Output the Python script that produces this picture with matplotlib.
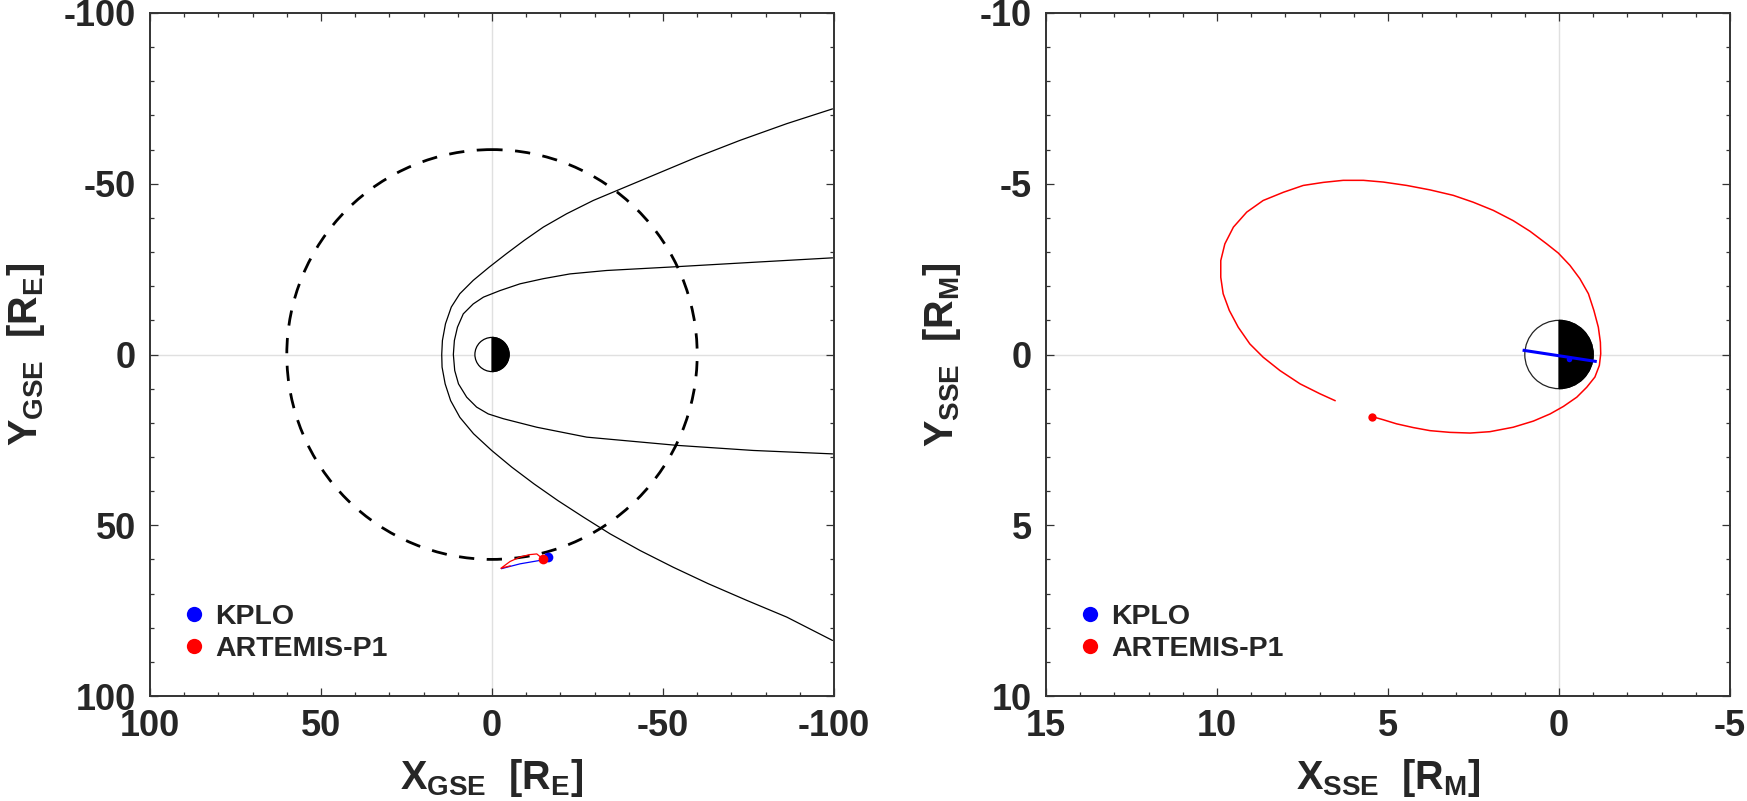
import matplotlib
matplotlib.use("Agg")
import matplotlib.pyplot as plt
from matplotlib.patches import Circle, Wedge
from matplotlib.lines import Line2D
from matplotlib.ticker import MultipleLocator

plt.rcParams['font.family'] = ['Liberation Sans', 'DejaVu Sans']
plt.rcParams['font.weight'] = 'bold'
plt.rcParams['axes.unicode_minus'] = False
plt.rcParams['mathtext.fontset'] = 'custom'
plt.rcParams['mathtext.rm'] = 'Liberation Sans:bold'
plt.rcParams['mathtext.bf'] = 'Liberation Sans:bold'
plt.rcParams['mathtext.it'] = 'Liberation Sans:bold'

TXT = '#262626'

# ---------------- data: left panel (GSE, Earth radii) ----------------
moon_orbit_r = 60.0
earth_r = 5.0

# bow shock (top branch -> nose -> bottom branch)
bs_x = [-99.5, -86.2, -72.5, -59.9, -48.2, -36.5, -29.6, -21.8, -15.0, -9.4, -4.2,
        0.8, 5.5, 9.4, 11.9, 13.6, 14.5, 14.7, 14.6, 13.7, 12.1, 9.4, 5.4, 0.1,
        -5.8, -12.3, -19.3, -26.7, -34.5, -43.3, -53.0, -63.2, -74.5, -86.2, -99.5]
bs_y = [-71.9, -67.6, -62.7, -57.8, -52.9, -48.0, -45.1, -41.2, -37.3, -33.4, -29.5,
        -25.6, -21.7, -17.8, -13.9, -9.0, -4.1, 0.0, 3.7, 8.6, 13.5, 18.4, 23.2, 28.1,
        33.0, 37.9, 42.8, 47.6, 52.5, 57.4, 62.3, 67.1, 72.0, 76.9, 83.7]

# magnetopause
mp_x = [-99.5, -76.4, -52.0, -33.5, -22.8, -15.0, -8.2, -2.3, 2.5, 5.5, 8.4, 10.1,
        11.0, 11.3, 10.9, 9.8, 7.4, 4.5, 1.1, -3.3, -13.1, -27.7, -54.0, -76.4, -99.5]
mp_y = [-28.3, -27.0, -25.6, -24.6, -23.6, -22.2, -20.7, -18.7, -16.8, -14.8, -11.9, -8.0,
        -4.1, 0.0, 4.7, 8.6, 12.5, 15.4, 17.4, 18.8, 21.3, 24.2, 26.6, 28.1, 29.1]

kplo_gse_x = [-2.8, -8.2, -14.0, -16.5]
kplo_gse_y = [62.7, 61.3, 60.3, 59.3]
art_gse_x = [-5.3, -2.6, -5.3, -8.2, -11.0, -13.1, -14.8]
art_gse_y = [61.9, 62.6, 60.6, 59.3, 58.6, 58.4, 59.8]
kplo_gse_now = (-16.5, 59.3)
art_gse_now = (-14.8, 59.8)

# ---------------- data: right panel (SSE, Moon radii) ----------------
moon_r = 1.0
kplo_sse_x = [1.02, -1.06]
kplo_sse_y = [-0.12, 0.20]
kplo_sse_now = (-0.30, 0.13)

art_sse_x = [5.46, 5.14, 4.75, 4.26, 3.77, 3.19, 2.60, 2.02, 1.34, 0.75, 0.26, -0.13,
             -0.52, -0.81, -1.05, -1.18, -1.22, -1.21, -1.15, -1.02, -0.86, -0.61, -0.32,
             0.02, 0.36, 0.85, 1.34, 1.92, 2.51, 3.09, 3.77, 4.45, 5.14, 5.72, 6.31, 6.89,
             7.48, 8.06, 8.65, 9.13, 9.52, 9.77, 9.89, 9.89, 9.82, 9.64, 9.38, 9.04, 8.65,
             8.16, 7.57, 6.99, 6.55]
art_sse_y = [1.82, 1.91, 2.03, 2.14, 2.23, 2.28, 2.30, 2.26, 2.13, 1.95, 1.74, 1.52,
             1.25, 0.96, 0.66, 0.32, -0.02, -0.36, -0.80, -1.29, -1.78, -2.22, -2.61,
             -2.97, -3.24, -3.61, -3.92, -4.22, -4.46, -4.66, -4.82, -4.95, -5.05, -5.10, -5.10, -5.04,
             -4.95, -4.75, -4.51, -4.17, -3.73, -3.24, -2.75, -2.26, -1.78, -1.29, -0.80, -0.31, 0.08,
             0.47, 0.86, 1.15, 1.35]
art_sse_now = (5.46, 1.82)

left_ticks = [100, 50, 0, -50, -100]
right_xticks = [15, 10, 5, 0, -5]
right_yticks = [-10, -5, 0, 5, 10]

# ---------------- figure ----------------
fig = plt.figure(figsize=(17.47, 8.01), dpi=100)
W, H = 1747, 801
ax1 = fig.add_axes([150 / W, 105 / H, 684 / W, 683 / H])
ax2 = fig.add_axes([1046 / W, 105 / H, 684 / W, 683 / H])


def style(ax, lim, minor, xt, yt, xlabel, ylabel):
    ax.set_xlim(lim[0], lim[1])
    ax.set_ylim(lim[2], lim[3])
    ax.set_xticks(xt)
    ax.set_yticks(yt)
    ax.xaxis.set_minor_locator(MultipleLocator(minor))
    ax.yaxis.set_minor_locator(MultipleLocator(minor))
    ax.tick_params(which='both', direction='in', top=True, right=True,
                   color='#333333', width=0.9)
    ax.tick_params(which='major', length=5.5, labelsize=26, labelcolor=TXT)
    ax.tick_params(which='minor', length=2.8)
    ax.tick_params(axis='x', which='major', pad=9)
    ax.tick_params(axis='y', which='major', pad=10)
    for lab in ax.get_xticklabels() + ax.get_yticklabels():
        lab.set_fontweight('bold')
    for s in ax.spines.values():
        s.set_color('#333333')
        s.set_linewidth(1.4)
    ax.axhline(0, color='#e0e0e0', lw=1.0, zorder=0)
    ax.axvline(0, color='#e0e0e0', lw=1.0, zorder=0)
    ax.set_xlabel(xlabel, fontsize=28.5, color=TXT, labelpad=10)
    ax.set_ylabel(ylabel, fontsize=28.5, color=TXT, labelpad=12)


style(ax1, (100, -100, 100, -100), 10, left_ticks, left_ticks[::-1],
      r'$\mathbf{X_{GSE}}$  $\mathbf{[R_E]}$', r'$\mathbf{Y_{GSE}}$  $\mathbf{[R_E]}$')
style(ax2, (15, -5, 10, -10), 1, right_xticks, right_yticks,
      r'$\mathbf{X_{SSE}}$  $\mathbf{[R_M]}$', r'$\mathbf{Y_{SSE}}$  $\mathbf{[R_M]}$')

# left panel content
ax1.plot(bs_x, bs_y, color='black', lw=0.9, zorder=2)
ax1.plot(mp_x, mp_y, color='black', lw=0.9, zorder=2)
ax1.add_patch(Circle((0, 0), moon_orbit_r, fill=False, ec='black', lw=2.0,
                     ls=(0, (5.5, 4.5)), zorder=2))
ax1.add_patch(Circle((0, 0), earth_r, fc='white', ec='black', lw=0.9, zorder=3))
ax1.add_patch(Wedge((0, 0), earth_r, 90, 270, fc='black', ec='black', lw=0.9, zorder=4))
ax1.plot(kplo_gse_x, kplo_gse_y, color='blue', lw=0.9, zorder=5)
ax1.plot(art_gse_x, art_gse_y, color='red', lw=0.9, zorder=5)
ax1.plot(*kplo_gse_now, 'o', color='blue', ms=7, mec='none', zorder=6)
ax1.plot(*art_gse_now, 'o', color='red', ms=7, mec='none', zorder=7)

# right panel content
ax2.add_patch(Circle((0, 0), moon_r, fc='white', ec='#222222', lw=0.9, zorder=3))
ax2.add_patch(Wedge((0, 0), moon_r, 90, 270, fc='black', ec='black', lw=0.9, zorder=4))
ax2.plot(art_sse_x, art_sse_y, color='red', lw=1.1, zorder=5)
ax2.plot(*art_sse_now, 'o', color='red', ms=6, mec='none', zorder=6)
ax2.plot(kplo_sse_x, kplo_sse_y, color='blue', lw=2.2, zorder=6)
ax2.plot(*kplo_sse_now, 'o', color='blue', ms=4, mec='none', zorder=7)

handles = [Line2D([], [], marker='o', ls='none', color='blue', ms=11, mec='none', label='KPLO'),
           Line2D([], [], marker='o', ls='none', color='red', ms=11, mec='none', label='ARTEMIS-P1')]
for ax in (ax1, ax2):
    leg = ax.legend(handles=handles, loc='lower left', bbox_to_anchor=(0.033, 0.033),
                    frameon=False, handlelength=0.7, handletextpad=0.4,
                    labelspacing=0.2, borderaxespad=0.0, borderpad=0.4,
                    prop={'weight': 'bold', 'size': 20.5})
    for t in leg.get_texts():
        t.set_color(TXT)

fig.savefig('out.png', dpi=100, facecolor='white')
